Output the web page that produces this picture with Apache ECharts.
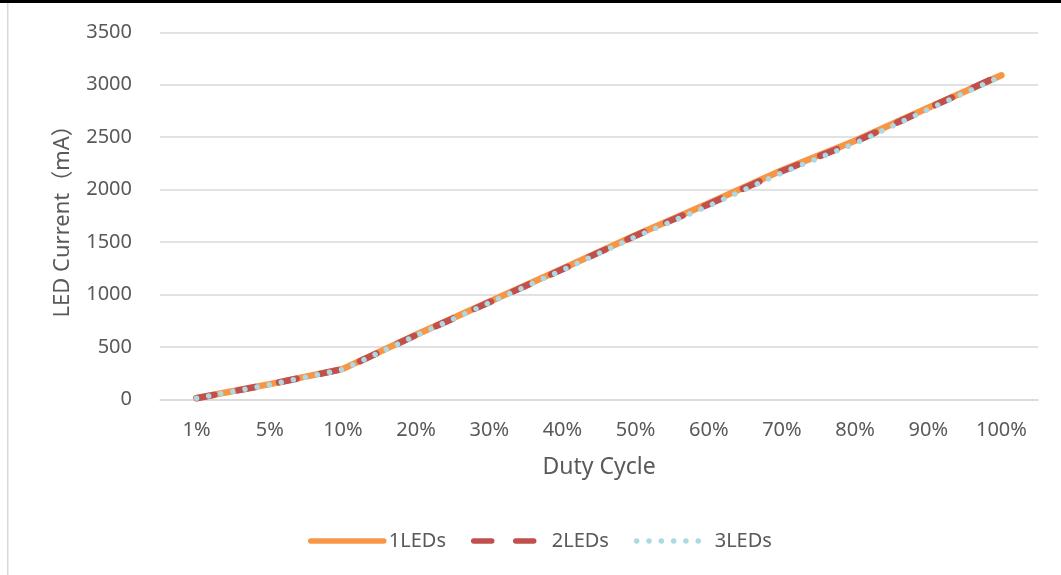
<!DOCTYPE html>
<html>
<head>
<meta charset="utf-8">
<script src="https://cdn.jsdelivr.net/npm/echarts@6/dist/echarts.min.js"></script>
<style>
html,body{margin:0;padding:0;background:#fff;}
#c{width:1061px;height:575px;}
</style>
</head>
<body>
<div id="c"></div>
<script>
const categories = ['1%', '5%', '10%', '20%', '30%', '40%', '50%', '60%', '70%', '80%', '90%', '100%'];
const led1 = [12, 145, 290, 615, 930, 1245, 1565, 1870, 2185, 2465, 2780, 3090];
const led2 = [10, 143, 288, 612, 925, 1240, 1560, 1860, 2175, 2455, 2775, 3095];
const led3 = [10, 140, 285, 608, 920, 1232, 1550, 1845, 2160, 2440, 2765, 3080];
const seriesNames = ['1LEDs', '2LEDs', '3LEDs'];

const FONT = '"Noto Sans", "Noto Sans CJK SC", sans-serif';
const chart = echarts.init(document.getElementById('c'), null, {renderer: 'canvas'});
chart.setOption({
  animation: false,
  backgroundColor: '#fff',
  textStyle: {fontFamily: FONT},
  graphic: [
    {type: 'rect', shape: {x: 0, y: 0, width: 1061, height: 3}, style: {fill: '#000'}},
    {type: 'rect', shape: {x: 7, y: 3, width: 1.5, height: 572}, style: {fill: '#d9d9d9'}}
  ],
  grid: {left: 160, right: 23, top: 32.3, bottom: 175.7},
  legend: {
    bottom: 19,
    left: 303,
    itemWidth: 73,
    itemHeight: 12,
    itemGap: 25,
    itemStyle: {opacity: 0},
    lineStyle: {width: 5.5, cap: 'round'},
    textStyle: {fontSize: 20, color: '#595959', fontFamily: FONT},
    data: seriesNames
  },
  xAxis: {
    type: 'category',
    data: categories,
    boundaryGap: true,
    name: 'Duty Cycle',
    nameLocation: 'middle',
    nameGap: 57,
    nameTextStyle: {fontSize: 23, color: '#595959', fontFamily: FONT},
    axisLine: {show: true, lineStyle: {color: '#d9d9d9', width: 1.5}},
    axisTick: {show: false},
    axisLabel: {fontSize: 20, color: '#595959', margin: 21, fontFamily: FONT}
  },
  yAxis: {
    type: 'value',
    min: 0,
    max: 3500,
    interval: 500,
    name: 'LED Current（mA）',
    nameLocation: 'middle',
    nameGap: 86,
    nameTextStyle: {fontSize: 22, color: '#595959', fontFamily: FONT},
    axisLine: {show: false},
    axisTick: {show: false},
    splitLine: {lineStyle: {color: '#d9d9d9', width: 1.5}},
    axisLabel: {fontSize: 20, color: '#595959', margin: 28, fontFamily: FONT, formatter: v => String(v)}
  },
  series: [
    {
      name: seriesNames[0], type: 'line', data: led1, symbol: 'none', smooth: false,
      color: '#F79646',
      lineStyle: {color: '#F79646', width: 6.5, cap: 'round', join: 'round'}
    },
    {
      name: seriesNames[1], type: 'line', data: led2, symbol: 'none',
      color: '#C0504D',
      lineStyle: {color: '#C0504D', width: 6.5, type: [18, 24], cap: 'round', join: 'round'}
    },
    {
      name: seriesNames[2], type: 'line', data: led3, symbol: 'none',
      color: '#ABD9E6',
      lineStyle: {color: '#ABD9E6', width: 5.5, type: [0.01, 12.3], cap: 'round', join: 'round'}
    }
  ]
});
</script>
</body>
</html>
